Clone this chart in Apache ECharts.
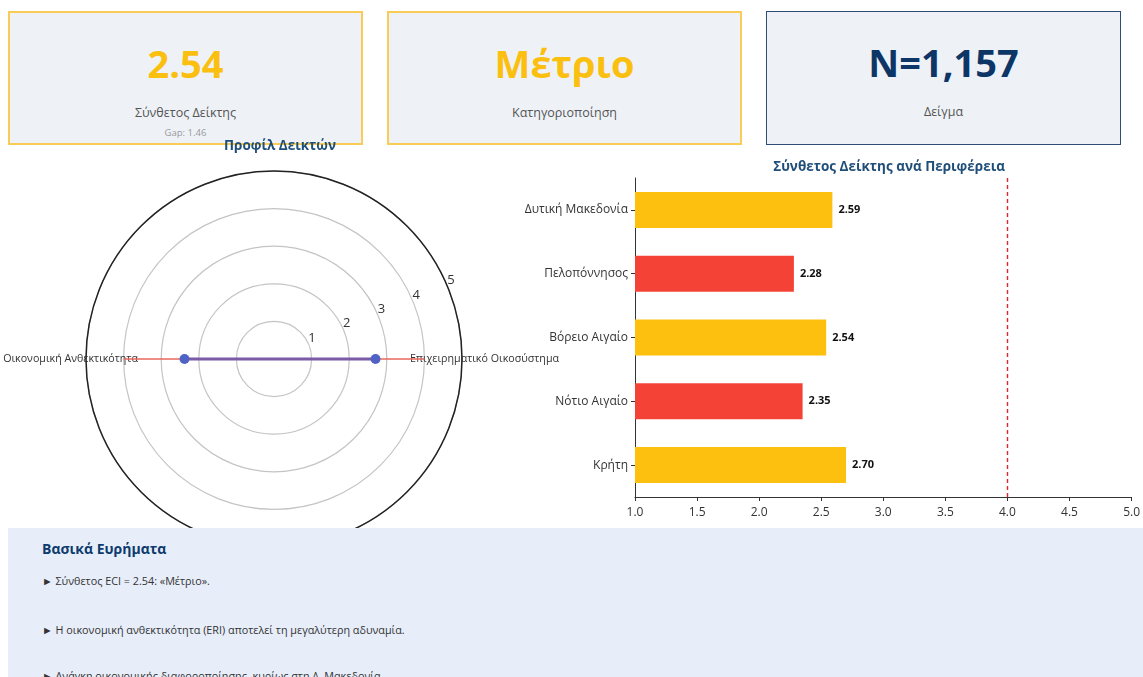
<!DOCTYPE html>
<html>
<head>
<meta charset="utf-8">
<script src="https://cdn.jsdelivr.net/npm/echarts@6/dist/echarts.min.js"></script>
<style>
  html, body { margin:0; padding:0; width:1143px; height:677px; overflow:hidden; background:#fff; font-family:"Open Sans","Noto Sans",sans-serif; }
  .card { position:absolute; top:11px; height:134px; width:355px; box-sizing:border-box; background:#eef2f7; border:2px solid #f8cc55; z-index:1; }
  .card.navy { border:1.5px solid #2d4d78; }
  .big { position:absolute; left:0; right:0; text-align:center; font-weight:700; font-size:38px; line-height:40px; top:30px; }
  .sub { position:absolute; left:0; right:0; text-align:center; font-size:12.5px; color:#555; top:91px; }
  .gap { position:absolute; left:0; right:0; text-align:center; font-size:9.5px; color:#999; top:113px; }
  #chart { position:absolute; left:0; top:0; width:1143px; height:677px; z-index:2; }
  #panel { position:absolute; left:8px; top:528px; width:1135px; height:149px; background:#e7eef9; z-index:3; overflow:hidden; }
  #panel h3 { position:absolute; left:34px; top:11px; margin:0; font-size:14px; color:#0d3b6e; font-weight:700; }
  #panel .item { position:absolute; left:34px; font-size:10.8px; color:#333; }
</style>
</head>
<body>
<div class="card" style="left:8px"><div class="big" id="v1" style="color:#fbbf10"></div><div class="sub" id="s1"></div><div class="gap" id="g1"></div></div>
<div class="card" style="left:387px"><div class="big" id="v2" style="color:#fbbf10"></div><div class="sub" id="s2"></div></div>
<div class="card navy" style="left:766px"><div class="big" id="v3" style="color:#0d3566"></div><div class="sub" id="s3"></div></div>
<div id="chart"></div>
<div id="panel"><h3 id="ptitle"></h3></div>
<script>
// ---- KPI data ----
const compositeIndex = 2.54;
const gapValue = 1.46;
const categoryLabel = 'Μέτριο';
const sampleSize = 1157;
const kpiLabels = ['Σύνθετος Δείκτης', 'Κατηγοριοποίηση', 'Δείγμα'];

// ---- Radar (profile) data ----
const indicatorNames = ['Επιχειρηματικό Οικοσύστημα', 'Οικονομική Ανθεκτικότητα'];
const indicatorValues = [2.70, 2.38];
const targetValues = [4, 4];
const radialMax = 5;

// ---- Regional bar data ----
const regions = ['Δυτική Μακεδονία', 'Πελοπόννησος', 'Βόρειο Αιγαίο', 'Νότιο Αιγαίο', 'Κρήτη'];
const regionValues = [2.59, 2.28, 2.54, 2.35, 2.70];
const targetLevel = 4.0;
const xMin = 1.0, xMax = 5.0, xStep = 0.5;

// ---- Findings ----
const findingsTitle = 'Βασικά Ευρήματα';
const findings = [
  '► Σύνθετος ECI = 2.54: «Μέτριο».',
  '► Η οικονομική ανθεκτικότητα (ERI) αποτελεί τη μεγαλύτερη αδυναμία.',
  '► Ανάγκη οικονομικής διαφοροποίησης, κυρίως στη Δ. Μακεδονία.'
];
const chartTitles = ['Προφίλ Δεικτών', 'Σύνθετος Δείκτης ανά Περιφέρεια'];

// fill HTML
document.getElementById('v1').textContent = compositeIndex.toFixed(2);
document.getElementById('s1').textContent = kpiLabels[0];
document.getElementById('g1').textContent = 'Gap: ' + gapValue.toFixed(2);
document.getElementById('v2').textContent = categoryLabel;
document.getElementById('s2').textContent = kpiLabels[1];
document.getElementById('v3').textContent = 'N=' + sampleSize.toLocaleString('en-US');
document.getElementById('s3').textContent = kpiLabels[2];
document.getElementById('ptitle').textContent = findingsTitle;
const panel = document.getElementById('panel');
const itemTops = [45, 94, 140];
findings.forEach((t, i) => {
  const d = document.createElement('div');
  d.className = 'item'; d.style.top = itemTops[i] + 'px'; d.textContent = t;
  panel.appendChild(d);
});

const FONT = '"Open Sans","Noto Sans",sans-serif';
const chart = echarts.init(document.getElementById('chart'), null, { renderer: 'canvas' });
const option = {
  textStyle: { fontFamily: FONT },
  animation: false,
  title: [
    { text: chartTitles[0], left: 275, top: 134, textAlign: 'center',
      textStyle: { fontSize: 13.5, fontWeight: 'bold', color: '#1f4e79', fontFamily: FONT } },
    { text: chartTitles[1], left: 884, top: 155, textAlign: 'center',
      textStyle: { fontSize: 13.5, fontWeight: 'bold', color: '#1f4e79', fontFamily: FONT } }
  ],
  polar: [
    { center: [274, 359], radius: 188 },
    { center: [274, 359], radius: 188 }
  ],
  angleAxis: [
    { polarIndex: 0, type: 'category', data: indicatorNames, startAngle: 90, boundaryGap: true,
      axisLine: { show: false },
      axisTick: { show: false }, splitLine: { show: false },
      axisLabel: { margin: -52, fontSize: 10.7, color: '#333' } },
    { polarIndex: 1, type: 'value', min: 0, max: 360, startAngle: 22.5,
      axisLine: { show: true, lineStyle: { color: '#222', width: 1.5 } },
      axisTick: { show: false }, axisLabel: { show: false }, splitLine: { show: false } }
  ],
  radiusAxis: [
    { polarIndex: 0, type: 'value', min: 0, max: radialMax, interval: 1,
      axisLine: { show: false }, axisTick: { show: false }, axisLabel: { show: false },
      splitLine: { show: false } },
    { polarIndex: 1, type: 'value', min: 0, max: radialMax, interval: 1,
      axisLine: { show: false }, axisTick: { show: false },
      splitLine: { show: true, lineStyle: { color: '#c4c4c4', width: 1.2 } },
      axisLabel: { show: true, showMinLabel: false, fontSize: 13, color: '#333', margin: 7,
        align: 'left', formatter: v => '\u2009' + v } }
  ],
  grid: { left: 635, right: 11, top: 178, bottom: 180 },
  xAxis: { type: 'value', min: xMin, max: xMax, interval: xStep,
    axisLine: { show: true, lineStyle: { color: '#333' } },
    axisTick: { show: true, length: 4, lineStyle: { color: '#333' } },
    splitLine: { show: false },
    axisLabel: { fontSize: 12, color: '#333', margin: 10, formatter: v => v.toFixed(1) } },
  yAxis: { type: 'category', data: regions, inverse: true,
    axisLine: { show: true, lineStyle: { color: '#333' } },
    axisTick: { show: true, alignWithLabel: true, length: 4, lineStyle: { color: '#333' } },
    axisLabel: { fontSize: 12, color: '#333', margin: 7 } },
  series: [
    { type: 'line', coordinateSystem: 'polar', polarIndex: 0, data: targetValues, clip: false,
      symbol: 'none', lineStyle: { color: '#e8675a', width: 1.5 }, z: 5 },
    { type: 'line', coordinateSystem: 'polar', polarIndex: 0, data: indicatorValues, clip: false,
      symbol: 'circle', symbolSize: 10,
      itemStyle: { color: '#4f63c5' },
      lineStyle: { color: '#7a5ba6', width: 3 }, z: 6 },
    { type: 'bar', data: regionValues.map(v => ({ value: v, itemStyle: { color: v >= 2.5 ? '#fdc00f' : '#f44336' } })),
      barWidth: 36,
      label: { show: true, position: 'right', distance: 6, fontSize: 11, fontWeight: 'bold', color: '#111',
        formatter: p => p.value.toFixed(2) },
      markLine: { silent: true, symbol: 'none', label: { show: false },
        lineStyle: { color: '#e02a2a', type: [4, 3], width: 1.4, opacity: 1 },
        data: [{ xAxis: targetLevel }] } }
  ]
};
chart.setOption(option);
</script>
</body>
</html>
